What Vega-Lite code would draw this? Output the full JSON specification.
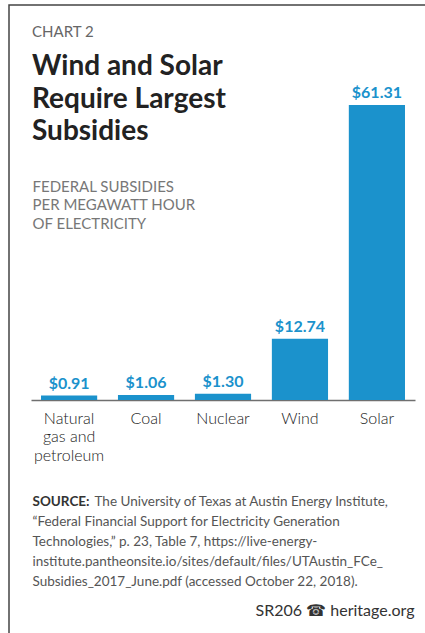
{
  "$schema": "https://vega.github.io/schema/vega-lite/v6.json",
  "width": 416,
  "height": 628,
  "padding": {"left": 9, "top": 5, "right": 0, "bottom": 0},
  "background": "white",
  "config": {
    "font": "Lato",
    "view": {"stroke": "#444444", "strokeWidth": 1.5, "strokeDash": [416, 1044, 628]},
    "axis": {"grid": false, "ticks": false, "tickSize": 0, "domain": false, "labels": false, "titleAngle": 0, "titleAlign": "left", "titleBaseline": "alphabetic", "titleFont": "Lato"}
  },
  "title": {
    "text": "CHART 2",
    "subtitle": ["Wind and Solar", "Require Largest", "Subsidies"],
    "orient": "top",
    "anchor": "start",
    "frame": "group",
    "offset": -141,
    "dx": 23,
    "font": "Lato",
    "fontSize": 15,
    "fontWeight": "normal",
    "color": "#666666",
    "subtitleFont": "Lato",
    "subtitleFontSize": 28,
    "subtitleFontWeight": "bold",
    "subtitleColor": "#222222",
    "subtitleLineHeight": 32.5,
    "subtitlePadding": 13
  },
  "data": {
    "values": [
      {"source": "Natural gas and petroleum", "value": 0.91},
      {"source": "Coal", "value": 1.06},
      {"source": "Nuclear", "value": 1.30},
      {"source": "Wind", "value": 12.74},
      {"source": "Solar", "value": 61.31}
    ]
  },
  "layer": [
    {
      "mark": {"type": "bar", "color": "#1b92cc"},
      "encoding": {
        "x": {
          "field": "source",
          "type": "nominal",
          "sort": null,
          "scale": {"range": [22, 406], "paddingInner": 0.27, "paddingOuter": 0.13},
          "axis": {
            "orient": "bottom",
            "offset": -233,
            "domain": true,
            "domainColor": "#6f6f6f",
            "domainWidth": 1.5,
            "labels": true,
            "labelAngle": 0,
            "labelFont": "Lato",
            "labelFontSize": 16,
            "labelFontWeight": 300,
            "labelColor": "#222222",
            "labelPadding": 10,
            "labelLineHeight": 18.5,
            "labelExpr": "datum.label == 'Natural gas and petroleum' ? ['Natural', 'gas and', 'petroleum'] : datum.label",
            "title": ["“Federal Financial Support for Electricity Generation", "Technologies,” p. 23, Table 7, https://live-energy-", "institute.pantheonsite.io/sites/default/files/UTAustin_FCe_", "Subsidies_2017_June.pdf (accessed October 22, 2018)."],
            "titleX": 23,
            "titleY": 125,
            "titleFontSize": 13.5,
            "titleFontWeight": "normal",
            "titleColor": "#555555",
            "titleLineHeight": 20
          }
        },
        "y": {
          "field": "value",
          "type": "quantitative",
          "scale": {"domain": [0, 61.31], "range": [395, 100], "nice": false, "zero": true},
          "axis": {
            "orient": "left",
            "title": ["FEDERAL SUBSIDIES", "PER MEGAWATT HOUR", "OF ELECTRICITY"],
            "titleX": 23,
            "titleY": 186,
            "titleFontSize": 15,
            "titleFontWeight": "normal",
            "titleColor": "#777777",
            "titleLineHeight": 18.5
          }
        }
      }
    },
    {
      "mark": {"type": "text", "baseline": "alphabetic", "dy": -7, "font": "Lato", "fontSize": 16, "fontWeight": "bold", "color": "#1b92cc"},
      "encoding": {
        "text": {"field": "value", "type": "quantitative", "format": "$.2f"},
        "x": {
          "field": "source",
          "type": "nominal",
          "sort": null,
          "axis": {
            "orient": "top",
            "title": "SOURCE:",
            "titleX": 23,
            "titleY": 500,
            "titleFontSize": 13.5,
            "titleFontWeight": "bold",
            "titleColor": "#333333"
          }
        },
        "y": {
          "field": "value",
          "type": "quantitative",
          "axis": {
            "orient": "right",
            "title": "The University of Texas at Austin Energy Institute,",
            "titleX": -331,
            "titleY": 500,
            "titleFontSize": 13.5,
            "titleFontWeight": "normal",
            "titleColor": "#555555"
          }
        }
      }
    },
    {
      "mark": {"type": "rule", "opacity": 0},
      "encoding": {
        "y": {
          "datum": 0,
          "type": "quantitative",
          "axis": {
            "orient": "left",
            "title": "SR206 ☎ heritage.org",
            "titleX": 405,
            "titleY": 610,
            "titleAlign": "right",
            "titleFontSize": 16,
            "titleFontWeight": "normal",
            "titleColor": "#333333"
          }
        }
      }
    }
  ],
  "resolve": {"axis": {"x": "independent", "y": "independent"}}
}
